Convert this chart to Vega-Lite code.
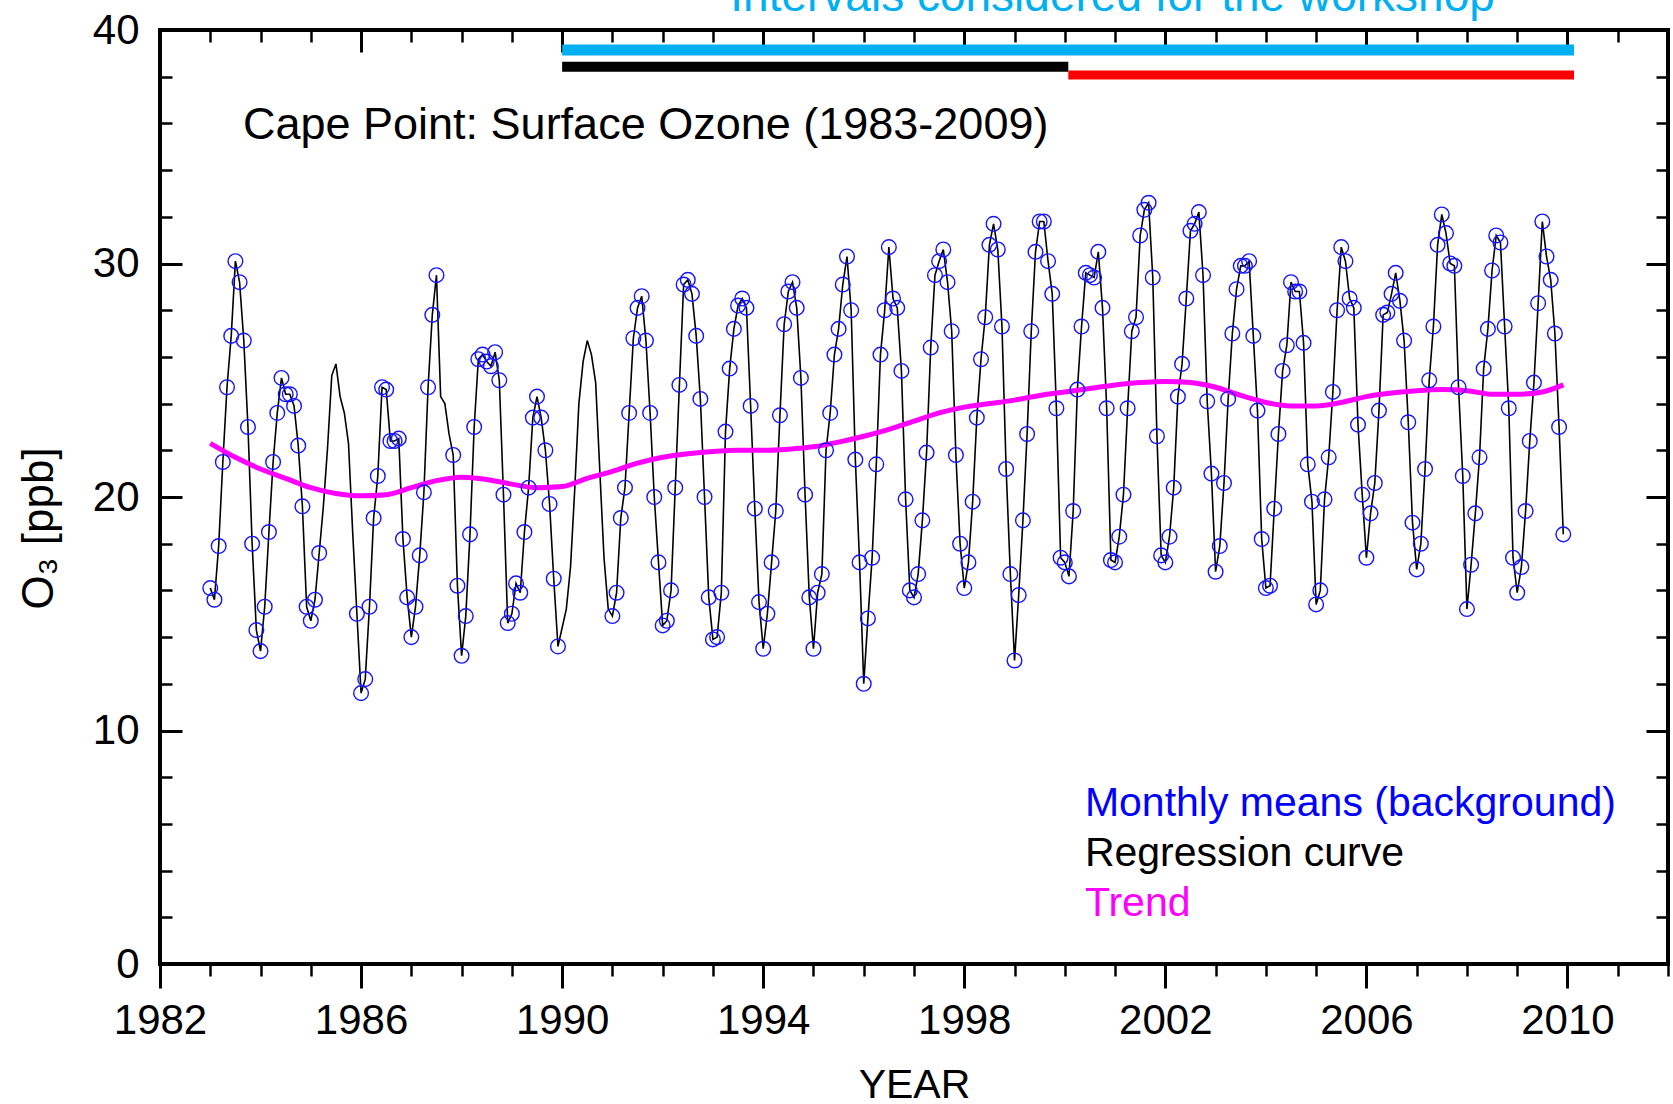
{
  "$schema": "https://vega.github.io/schema/vega-lite/v6.json",
  "width": 1508,
  "height": 934,
  "autosize": {"type": "none"},
  "padding": {"left": 160, "top": 30, "right": 5, "bottom": 140},
  "background": "white",
  "config": {
    "font": "Liberation Sans",
    "view": {"stroke": "black", "strokeWidth": 4},
    "axis": {"grid": false, "domain": false, "tickColor": "black", "labelColor": "black", "titleColor": "black", "labelFont": "Liberation Sans", "titleFont": "Liberation Sans", "titleFontWeight": "normal", "labelFlush": false, "labelOverlap": false}
  },
  "datasets": {
    "monthly": [
      {"t":1983.000,"o":16.1,"r":16.1},{"t":1983.083,"o":15.6,"r":15.6},{"t":1983.167,"o":17.9,"r":17.9},{"t":1983.250,"o":21.5,"r":21.5},{"t":1983.333,"o":24.7,"r":24.7},{"t":1983.417,"o":26.9,"r":26.9},{"t":1983.500,"o":30.1,"r":30.1},{"t":1983.583,"o":29.2,"r":29.2},{"t":1983.667,"o":26.7,"r":26.7},{"t":1983.750,"o":23.0,"r":23.0},{"t":1983.833,"o":18.0,"r":18.0},{"t":1983.917,"o":14.3,"r":14.3},
      {"t":1984.000,"o":13.4,"r":13.4},{"t":1984.083,"o":15.3,"r":15.3},{"t":1984.167,"o":18.5,"r":18.5},{"t":1984.250,"o":21.5,"r":21.5},{"t":1984.333,"o":23.6,"r":23.6},{"t":1984.417,"o":25.1,"r":25.1},{"t":1984.500,"o":24.4,"r":24.4},{"t":1984.583,"o":24.4,"r":24.4},{"t":1984.667,"o":23.9,"r":23.9},{"t":1984.750,"o":22.2,"r":22.2},{"t":1984.833,"o":19.6,"r":19.6},{"t":1984.917,"o":15.3,"r":15.3},
      {"t":1985.000,"o":14.7,"r":14.7},{"t":1985.083,"o":15.6,"r":15.6},{"t":1985.167,"o":17.6,"r":17.6},{"t":1985.250,"r":19.6},{"t":1985.333,"r":22.1},{"t":1985.417,"r":25.2},{"t":1985.500,"r":25.7},{"t":1985.583,"r":24.3},{"t":1985.667,"r":23.6},{"t":1985.750,"r":22.3},{"t":1985.833,"r":18.5},{"t":1985.917,"o":15.0,"r":15.0},
      {"t":1986.000,"o":11.6,"r":11.6},{"t":1986.083,"o":12.2,"r":12.2},{"t":1986.167,"o":15.3,"r":15.3},{"t":1986.250,"o":19.1,"r":19.1},{"t":1986.333,"o":20.9,"r":20.9},{"t":1986.417,"o":24.7,"r":24.7},{"t":1986.500,"o":24.6,"r":24.6},{"t":1986.583,"o":22.4,"r":22.4},{"t":1986.667,"o":22.4,"r":22.4},{"t":1986.750,"o":22.5,"r":22.5},{"t":1986.833,"o":18.2,"r":18.2},{"t":1986.917,"o":15.7,"r":15.7},
      {"t":1987.000,"o":14.0,"r":14.0},{"t":1987.083,"o":15.3,"r":15.3},{"t":1987.167,"o":17.5,"r":17.5},{"t":1987.250,"o":20.2,"r":20.2},{"t":1987.333,"o":24.7,"r":24.7},{"t":1987.417,"o":27.8,"r":27.8},{"t":1987.500,"o":29.5,"r":29.5},{"t":1987.583,"r":24.3},{"t":1987.667,"r":24.0},{"t":1987.750,"r":22.7},{"t":1987.833,"o":21.8,"r":21.8},{"t":1987.917,"o":16.2,"r":16.2},
      {"t":1988.000,"o":13.2,"r":13.2},{"t":1988.083,"o":14.9,"r":14.9},{"t":1988.167,"o":18.4,"r":18.4},{"t":1988.250,"o":23.0,"r":23.0},{"t":1988.333,"o":25.9,"r":25.9},{"t":1988.417,"o":26.1,"r":26.1},{"t":1988.500,"o":25.8,"r":25.8},{"t":1988.583,"o":25.6,"r":25.6},{"t":1988.667,"o":26.2,"r":26.2},{"t":1988.750,"o":25.0,"r":25.0},{"t":1988.833,"o":20.1,"r":20.1},{"t":1988.917,"o":14.6,"r":14.6},
      {"t":1989.000,"o":15.0,"r":15.0},{"t":1989.083,"o":16.3,"r":16.3},{"t":1989.167,"o":15.9,"r":15.9},{"t":1989.250,"o":18.5,"r":18.5},{"t":1989.333,"o":20.4,"r":20.4},{"t":1989.417,"o":23.4,"r":23.4},{"t":1989.500,"o":24.3,"r":24.3},{"t":1989.583,"o":23.4,"r":23.4},{"t":1989.667,"o":22.0,"r":22.0},{"t":1989.750,"o":19.7,"r":19.7},{"t":1989.833,"o":16.5,"r":16.5},{"t":1989.917,"o":13.6,"r":13.6},
      {"t":1990.000,"r":14.4},{"t":1990.083,"r":15.2},{"t":1990.167,"r":17.0},{"t":1990.250,"r":20.3},{"t":1990.333,"r":24.0},{"t":1990.417,"r":25.8},{"t":1990.500,"r":26.7},{"t":1990.583,"r":26.1},{"t":1990.667,"r":24.9},{"t":1990.750,"r":21.1},{"t":1990.833,"r":17.4},{"t":1990.917,"r":15.2},
      {"t":1991.000,"o":14.9,"r":14.9},{"t":1991.083,"o":15.9,"r":15.9},{"t":1991.167,"o":19.1,"r":19.1},{"t":1991.250,"o":20.4,"r":20.4},{"t":1991.333,"o":23.6,"r":23.6},{"t":1991.417,"o":26.8,"r":26.8},{"t":1991.500,"o":28.1,"r":28.1},{"t":1991.583,"o":28.6,"r":28.6},{"t":1991.667,"o":26.7,"r":26.7},{"t":1991.750,"o":23.6,"r":23.6},{"t":1991.833,"o":20.0,"r":20.0},{"t":1991.917,"o":17.2,"r":17.2},
      {"t":1992.000,"o":14.5,"r":14.5},{"t":1992.083,"o":14.7,"r":14.7},{"t":1992.167,"o":16.0,"r":16.0},{"t":1992.250,"o":20.4,"r":20.4},{"t":1992.333,"o":24.8,"r":24.8},{"t":1992.417,"o":29.1,"r":29.1},{"t":1992.500,"o":29.3,"r":29.3},{"t":1992.583,"o":28.7,"r":28.7},{"t":1992.667,"o":26.9,"r":26.9},{"t":1992.750,"o":24.2,"r":24.2},{"t":1992.833,"o":20.0,"r":20.0},{"t":1992.917,"o":15.7,"r":15.7},
      {"t":1993.000,"o":13.9,"r":13.9},{"t":1993.083,"o":14.0,"r":14.0},{"t":1993.167,"o":15.9,"r":15.9},{"t":1993.250,"o":22.8,"r":22.8},{"t":1993.333,"o":25.5,"r":25.5},{"t":1993.417,"o":27.2,"r":27.2},{"t":1993.500,"o":28.2,"r":28.2},{"t":1993.583,"o":28.5,"r":28.5},{"t":1993.667,"o":28.1,"r":28.1},{"t":1993.750,"o":23.9,"r":23.9},{"t":1993.833,"o":19.5,"r":19.5},{"t":1993.917,"o":15.5,"r":15.5},
      {"t":1994.000,"o":13.5,"r":13.5},{"t":1994.083,"o":15.0,"r":15.0},{"t":1994.167,"o":17.2,"r":17.2},{"t":1994.250,"o":19.4,"r":19.4},{"t":1994.333,"o":23.5,"r":23.5},{"t":1994.417,"o":27.4,"r":27.4},{"t":1994.500,"o":28.8,"r":28.8},{"t":1994.583,"o":29.2,"r":29.2},{"t":1994.667,"o":28.1,"r":28.1},{"t":1994.750,"o":25.1,"r":25.1},{"t":1994.833,"o":20.1,"r":20.1},{"t":1994.917,"o":15.7,"r":15.7},
      {"t":1995.000,"o":13.5,"r":13.5},{"t":1995.083,"o":15.9,"r":15.9},{"t":1995.167,"o":16.7,"r":16.7},{"t":1995.250,"o":22.0,"r":22.0},{"t":1995.333,"o":23.6,"r":23.6},{"t":1995.417,"o":26.1,"r":26.1},{"t":1995.500,"o":27.2,"r":27.2},{"t":1995.583,"o":29.1,"r":29.1},{"t":1995.667,"o":30.3,"r":30.3},{"t":1995.750,"o":28.0,"r":28.0},{"t":1995.833,"o":21.6,"r":21.6},{"t":1995.917,"o":17.2,"r":17.2},
      {"t":1996.000,"o":12.0,"r":12.0},{"t":1996.083,"o":14.8,"r":14.8},{"t":1996.167,"o":17.4,"r":17.4},{"t":1996.250,"o":21.4,"r":21.4},{"t":1996.333,"o":26.1,"r":26.1},{"t":1996.417,"o":28.0,"r":28.0},{"t":1996.500,"o":30.7,"r":30.7},{"t":1996.583,"o":28.5,"r":28.5},{"t":1996.667,"o":28.1,"r":28.1},{"t":1996.750,"o":25.4,"r":25.4},{"t":1996.833,"o":19.9,"r":19.9},{"t":1996.917,"o":16.0,"r":16.0},
      {"t":1997.000,"o":15.7,"r":15.7},{"t":1997.083,"o":16.7,"r":16.7},{"t":1997.167,"o":19.0,"r":19.0},{"t":1997.250,"o":21.9,"r":21.9},{"t":1997.333,"o":26.4,"r":26.4},{"t":1997.417,"o":29.5,"r":29.5},{"t":1997.500,"o":30.1,"r":30.1},{"t":1997.583,"o":30.6,"r":30.6},{"t":1997.667,"o":29.2,"r":29.2},{"t":1997.750,"o":27.1,"r":27.1},{"t":1997.833,"o":21.8,"r":21.8},{"t":1997.917,"o":18.0,"r":18.0},
      {"t":1998.000,"o":16.1,"r":16.1},{"t":1998.083,"o":17.2,"r":17.2},{"t":1998.167,"o":19.8,"r":19.8},{"t":1998.250,"o":23.4,"r":23.4},{"t":1998.333,"o":25.9,"r":25.9},{"t":1998.417,"o":27.7,"r":27.7},{"t":1998.500,"o":30.8,"r":30.8},{"t":1998.583,"o":31.7,"r":31.7},{"t":1998.667,"o":30.6,"r":30.6},{"t":1998.750,"o":27.3,"r":27.3},{"t":1998.833,"o":21.2,"r":21.2},{"t":1998.917,"o":16.7,"r":16.7},
      {"t":1999.000,"o":13.0,"r":13.0},{"t":1999.083,"o":15.8,"r":15.8},{"t":1999.167,"o":19.0,"r":19.0},{"t":1999.250,"o":22.7,"r":22.7},{"t":1999.333,"o":27.1,"r":27.1},{"t":1999.417,"o":30.5,"r":30.5},{"t":1999.500,"o":31.8,"r":31.8},{"t":1999.583,"o":31.8,"r":31.8},{"t":1999.667,"o":30.1,"r":30.1},{"t":1999.750,"o":28.7,"r":28.7},{"t":1999.833,"o":23.8,"r":23.8},{"t":1999.917,"o":17.4,"r":17.4},
      {"t":2000.000,"o":17.2,"r":17.2},{"t":2000.083,"o":16.6,"r":16.6},{"t":2000.167,"o":19.4,"r":19.4},{"t":2000.250,"o":24.6,"r":24.6},{"t":2000.333,"o":27.3,"r":27.3},{"t":2000.417,"o":29.6,"r":29.6},{"t":2000.500,"o":29.5,"r":29.5},{"t":2000.583,"o":29.4,"r":29.4},{"t":2000.667,"o":30.5,"r":30.5},{"t":2000.750,"o":28.1,"r":28.1},{"t":2000.833,"o":23.8,"r":23.8},{"t":2000.917,"o":17.3,"r":17.3},
      {"t":2001.000,"o":17.2,"r":17.2},{"t":2001.083,"o":18.3,"r":18.3},{"t":2001.167,"o":20.1,"r":20.1},{"t":2001.250,"o":23.8,"r":23.8},{"t":2001.333,"o":27.1,"r":27.1},{"t":2001.417,"o":27.7,"r":27.7},{"t":2001.500,"o":31.2,"r":31.2},{"t":2001.583,"o":32.3,"r":32.3},{"t":2001.667,"o":32.6,"r":32.6},{"t":2001.750,"o":29.4,"r":29.4},{"t":2001.833,"o":22.6,"r":22.6},{"t":2001.917,"o":17.5,"r":17.5},
      {"t":2002.000,"o":17.2,"r":17.2},{"t":2002.083,"o":18.3,"r":18.3},{"t":2002.167,"o":20.4,"r":20.4},{"t":2002.250,"o":24.3,"r":24.3},{"t":2002.333,"o":25.7,"r":25.7},{"t":2002.417,"o":28.5,"r":28.5},{"t":2002.500,"o":31.4,"r":31.4},{"t":2002.583,"o":31.7,"r":31.7},{"t":2002.667,"o":32.2,"r":32.2},{"t":2002.750,"o":29.5,"r":29.5},{"t":2002.833,"o":24.1,"r":24.1},{"t":2002.917,"o":21.0,"r":21.0},
      {"t":2003.000,"o":16.8,"r":16.8},{"t":2003.083,"o":17.9,"r":17.9},{"t":2003.167,"o":20.6,"r":20.6},{"t":2003.250,"o":24.2,"r":24.2},{"t":2003.333,"o":27.0,"r":27.0},{"t":2003.417,"o":28.9,"r":28.9},{"t":2003.500,"o":29.9,"r":29.9},{"t":2003.583,"o":29.9,"r":29.9},{"t":2003.667,"o":30.1,"r":30.1},{"t":2003.750,"o":26.9,"r":26.9},{"t":2003.833,"o":23.7,"r":23.7},{"t":2003.917,"o":18.2,"r":18.2},
      {"t":2004.000,"o":16.1,"r":16.1},{"t":2004.083,"o":16.2,"r":16.2},{"t":2004.167,"o":19.5,"r":19.5},{"t":2004.250,"o":22.7,"r":22.7},{"t":2004.333,"o":25.4,"r":25.4},{"t":2004.417,"o":26.5,"r":26.5},{"t":2004.500,"o":29.2,"r":29.2},{"t":2004.583,"o":28.8,"r":28.8},{"t":2004.667,"o":28.8,"r":28.8},{"t":2004.750,"o":26.6,"r":26.6},{"t":2004.833,"o":21.4,"r":21.4},{"t":2004.917,"o":19.8,"r":19.8},
      {"t":2005.000,"o":15.4,"r":15.4},{"t":2005.083,"o":16.0,"r":16.0},{"t":2005.167,"o":19.9,"r":19.9},{"t":2005.250,"o":21.7,"r":21.7},{"t":2005.333,"o":24.5,"r":24.5},{"t":2005.417,"o":28.0,"r":28.0},{"t":2005.500,"o":30.7,"r":30.7},{"t":2005.583,"o":30.1,"r":30.1},{"t":2005.667,"o":28.5,"r":28.5},{"t":2005.750,"o":28.1,"r":28.1},{"t":2005.833,"o":23.1,"r":23.1},{"t":2005.917,"o":20.1,"r":20.1},
      {"t":2006.000,"o":17.4,"r":17.4},{"t":2006.083,"o":19.3,"r":19.3},{"t":2006.167,"o":20.6,"r":20.6},{"t":2006.250,"o":23.7,"r":23.7},{"t":2006.333,"o":27.8,"r":27.8},{"t":2006.417,"o":27.9,"r":27.9},{"t":2006.500,"o":28.7,"r":28.7},{"t":2006.583,"o":29.6,"r":29.6},{"t":2006.667,"o":28.4,"r":28.4},{"t":2006.750,"o":26.7,"r":26.7},{"t":2006.833,"o":23.2,"r":23.2},{"t":2006.917,"o":18.9,"r":18.9},
      {"t":2007.000,"o":16.9,"r":16.9},{"t":2007.083,"o":18.0,"r":18.0},{"t":2007.167,"o":21.2,"r":21.2},{"t":2007.250,"o":25.0,"r":25.0},{"t":2007.333,"o":27.3,"r":27.3},{"t":2007.417,"o":30.8,"r":30.8},{"t":2007.500,"o":32.1,"r":32.1},{"t":2007.583,"o":31.3,"r":31.3},{"t":2007.667,"o":30.0,"r":30.0},{"t":2007.750,"o":29.9,"r":29.9},{"t":2007.833,"o":24.7,"r":24.7},{"t":2007.917,"o":20.9,"r":20.9},
      {"t":2008.000,"o":15.2,"r":15.2},{"t":2008.083,"o":17.1,"r":17.1},{"t":2008.167,"o":19.3,"r":19.3},{"t":2008.250,"o":21.7,"r":21.7},{"t":2008.333,"o":25.5,"r":25.5},{"t":2008.417,"o":27.2,"r":27.2},{"t":2008.500,"o":29.7,"r":29.7},{"t":2008.583,"o":31.2,"r":31.2},{"t":2008.667,"o":30.9,"r":30.9},{"t":2008.750,"o":27.3,"r":27.3},{"t":2008.833,"o":23.8,"r":23.8},{"t":2008.917,"o":17.4,"r":17.4},
      {"t":2009.000,"o":15.9,"r":15.9},{"t":2009.083,"o":17.0,"r":17.0},{"t":2009.167,"o":19.4,"r":19.4},{"t":2009.250,"o":22.4,"r":22.4},{"t":2009.333,"o":24.9,"r":24.9},{"t":2009.417,"o":28.3,"r":28.3},{"t":2009.500,"o":31.8,"r":31.8},{"t":2009.583,"o":30.3,"r":30.3},{"t":2009.667,"o":29.3,"r":29.3},{"t":2009.750,"o":27.0,"r":27.0},{"t":2009.833,"o":23.0,"r":23.0},{"t":2009.917,"o":18.4,"r":18.4}
    ],
    "trend": [
      {"t":1983.0,"v":22.3},{"t":1983.5,"v":21.7},{"t":1984.0,"v":21.2},{"t":1984.5,"v":20.8},{"t":1985.0,"v":20.4},{"t":1985.5,"v":20.15},{"t":1986.0,"v":20.05},{"t":1986.5,"v":20.1},{"t":1987.0,"v":20.4},{"t":1987.5,"v":20.7},{"t":1988.0,"v":20.85},{"t":1988.5,"v":20.75},{"t":1989.0,"v":20.55},{"t":1989.5,"v":20.4},{"t":1990.0,"v":20.45},{"t":1990.5,"v":20.8},{"t":1991.0,"v":21.1},{"t":1991.5,"v":21.45},{"t":1992.0,"v":21.7},{"t":1992.5,"v":21.85},{"t":1993.0,"v":21.95},{"t":1993.5,"v":22.0},{"t":1994.0,"v":22.0},{"t":1994.5,"v":22.05},{"t":1995.0,"v":22.15},{"t":1995.5,"v":22.35},{"t":1996.0,"v":22.6},{"t":1996.5,"v":22.9},{"t":1997.0,"v":23.25},{"t":1997.5,"v":23.6},{"t":1998.0,"v":23.85},{"t":1998.5,"v":24.0},{"t":1999.0,"v":24.15},{"t":1999.5,"v":24.35},{"t":2000.0,"v":24.5},{"t":2000.5,"v":24.65},{"t":2001.0,"v":24.8},{"t":2001.5,"v":24.9},{"t":2002.0,"v":24.95},{"t":2002.5,"v":24.9},{"t":2003.0,"v":24.7},{"t":2003.5,"v":24.35},{"t":2004.0,"v":24.05},{"t":2004.5,"v":23.9},{"t":2005.0,"v":23.9},{"t":2005.5,"v":24.05},{"t":2006.0,"v":24.3},{"t":2006.5,"v":24.45},{"t":2007.0,"v":24.55},{"t":2007.5,"v":24.6},{"t":2008.0,"v":24.55},{"t":2008.5,"v":24.4},{"t":2009.0,"v":24.4},{"t":2009.5,"v":24.5},{"t":2009.92,"v":24.8}
    ],
    "bars": [
      {"period":"workshop","start":1990.0,"end":2010.13,"level":39.14},
      {"period":"first","start":1990.0,"end":2000.07,"level":38.43},
      {"period":"second","start":2000.07,"end":2010.13,"level":38.07}
    ],
    "legend": [
      {"label":"Monthly means (background)","series":"points","t":2000.4,"v":6.34},
      {"label":"Regression curve","series":"regression","t":2000.4,"v":4.2},
      {"label":"Trend","series":"trend","t":2000.4,"v":2.06}
    ]
  },
  "layer": [
    {
      "data": {"name": "monthly"},
      "mark": {"type": "line", "color": "black", "strokeWidth": 1.6},
      "encoding": {
        "x": {"field": "t", "type": "quantitative", "scale": {"domain": [1982, 2012], "nice": false, "zero": false},
          "axis": {"orient": "bottom", "values": [1982,1986,1990,1994,1998,2002,2006,2010], "format": "d", "tickSize": 24, "tickWidth": 3, "labelFontSize": 42, "labelBaseline": "alphabetic", "labelPadding": 45, "title": "YEAR", "titleFontSize": 41, "titleX": 754, "titleY": 133, "titleBaseline": "alphabetic", "titleAlign": "center"}},
        "y": {"field": "r", "type": "quantitative", "scale": {"domain": [0, 40], "nice": false, "zero": false},
          "axis": {"orient": "left", "values": [0,10,20,30,40], "tickSize": -22, "tickWidth": 3, "labelFontSize": 42, "labelPadding": 43, "labelBaseline": "middle", "labelAlign": "right", "title": "O₃ [ppb]", "titleFontSize": 44, "titleAngle": 270, "titleX": -108, "titleY": 498, "titleBaseline": "alphabetic", "titleAlign": "center"}}
      }
    },
    {
      "data": {"name": "trend"},
      "mark": {"type": "line", "color": "#ff00ff", "strokeWidth": 5, "interpolate": "monotone"},
      "encoding": {
        "x": {"field": "t", "type": "quantitative", "scale": {"domain": [1982, 2012], "nice": false, "zero": false},
          "axis": {"orient": "bottom", "values": [1982,1983,1984,1985,1986,1987,1988,1989,1990,1991,1992,1993,1994,1995,1996,1997,1998,1999,2000,2001,2002,2003,2004,2005,2006,2007,2008,2009,2010,2011,2012], "tickSize": 12, "tickWidth": 2.5, "labels": false, "title": null}},
        "y": {"field": "v", "type": "quantitative", "scale": {"domain": [0, 40], "nice": false, "zero": false},
          "axis": {"orient": "left", "values": [0,2,4,6,8,10,12,14,16,18,20,22,24,26,28,30,32,34,36,38,40], "tickSize": -12, "tickWidth": 2.5, "labels": false, "title": null}}
      }
    },
    {
      "data": {"name": "monthly"},
      "transform": [{"filter": "isValid(datum.o)"}],
      "mark": {"type": "point", "shape": "circle", "filled": false, "color": "#1414ff", "size": 215, "strokeWidth": 1.4, "opacity": 1},
      "encoding": {
        "x": {"field": "t", "type": "quantitative", "scale": {"domain": [1982, 2012], "nice": false, "zero": false},
          "axis": {"orient": "top", "values": [1982,1983,1984,1985,1986,1987,1988,1989,1990,1991,1992,1993,1994,1995,1996,1997,1998,1999,2000,2001,2002,2003,2004,2005,2006,2007,2008,2009,2010,2011,2012], "tickSize": -12, "tickWidth": 2.5, "labels": false, "title": null}},
        "y": {"field": "o", "type": "quantitative", "scale": {"domain": [0, 40], "nice": false, "zero": false},
          "axis": {"orient": "right", "values": [0,2,4,6,8,10,12,14,16,18,20,22,24,26,28,30,32,34,36,38,40], "tickSize": -12, "tickWidth": 2.5, "labels": false, "title": null}}
      }
    },
    {
      "data": {"name": "bars"},
      "mark": {"type": "rule", "strokeCap": "butt"},
      "encoding": {
        "x": {"field": "start", "type": "quantitative", "scale": {"domain": [1982, 2012], "nice": false, "zero": false},
          "axis": {"orient": "top", "values": [1986,1990,1994,1998,2002,2006,2010], "tickSize": -22, "tickWidth": 3, "labels": false, "title": null}},
        "x2": {"field": "end"},
        "y": {"field": "level", "type": "quantitative", "scale": {"domain": [0, 40], "nice": false, "zero": false},
          "axis": {"orient": "right", "values": [10,20,30], "tickSize": -22, "tickWidth": 3, "labels": false, "title": null}},
        "color": {"field": "period", "type": "nominal", "scale": {"domain": ["workshop","first","second"], "range": ["#00b0f0","#000000","#ff0000"]}, "legend": null},
        "size": {"field": "period", "type": "nominal", "scale": {"domain": ["workshop","first","second"], "range": [11,9,9]}, "legend": null}
      }
    },
    {
      "data": {"values": [{"label": "Cape Point: Surface Ozone (1983-2009)", "t": 1983.65, "v": 35.33}]},
      "mark": {"type": "text", "align": "left", "baseline": "alphabetic", "fontSize": 45, "color": "black", "font": "Liberation Sans"},
      "encoding": {
        "x": {"field": "t", "type": "quantitative", "axis": null},
        "y": {"field": "v", "type": "quantitative", "axis": null},
        "text": {"field": "label"}
      }
    },
    {
      "data": {"values": [{"label": "Intervals considered for the workshop", "t": 2000.95, "v": 40.81}]},
      "mark": {"type": "text", "align": "center", "baseline": "alphabetic", "fontSize": 46, "color": "#00b0f0", "font": "Liberation Sans"},
      "encoding": {
        "x": {"field": "t", "type": "quantitative", "axis": null},
        "y": {"field": "v", "type": "quantitative", "axis": null},
        "text": {"field": "label"}
      }
    },
    {
      "data": {"name": "legend"},
      "mark": {"type": "text", "align": "left", "baseline": "alphabetic", "fontSize": 41, "font": "Liberation Sans"},
      "encoding": {
        "x": {"field": "t", "type": "quantitative", "axis": null},
        "y": {"field": "v", "type": "quantitative", "axis": null},
        "text": {"field": "label"},
        "color": {"field": "series", "type": "nominal", "scale": {"domain": ["points","regression","trend"], "range": ["#0000ff","#000000","#ff00ff"]}, "legend": null}
      }
    }
  ],
  "resolve": {"scale": {"x": "shared", "y": "shared", "color": "independent", "size": "independent"}, "axis": {"x": "independent", "y": "independent"}}
}
